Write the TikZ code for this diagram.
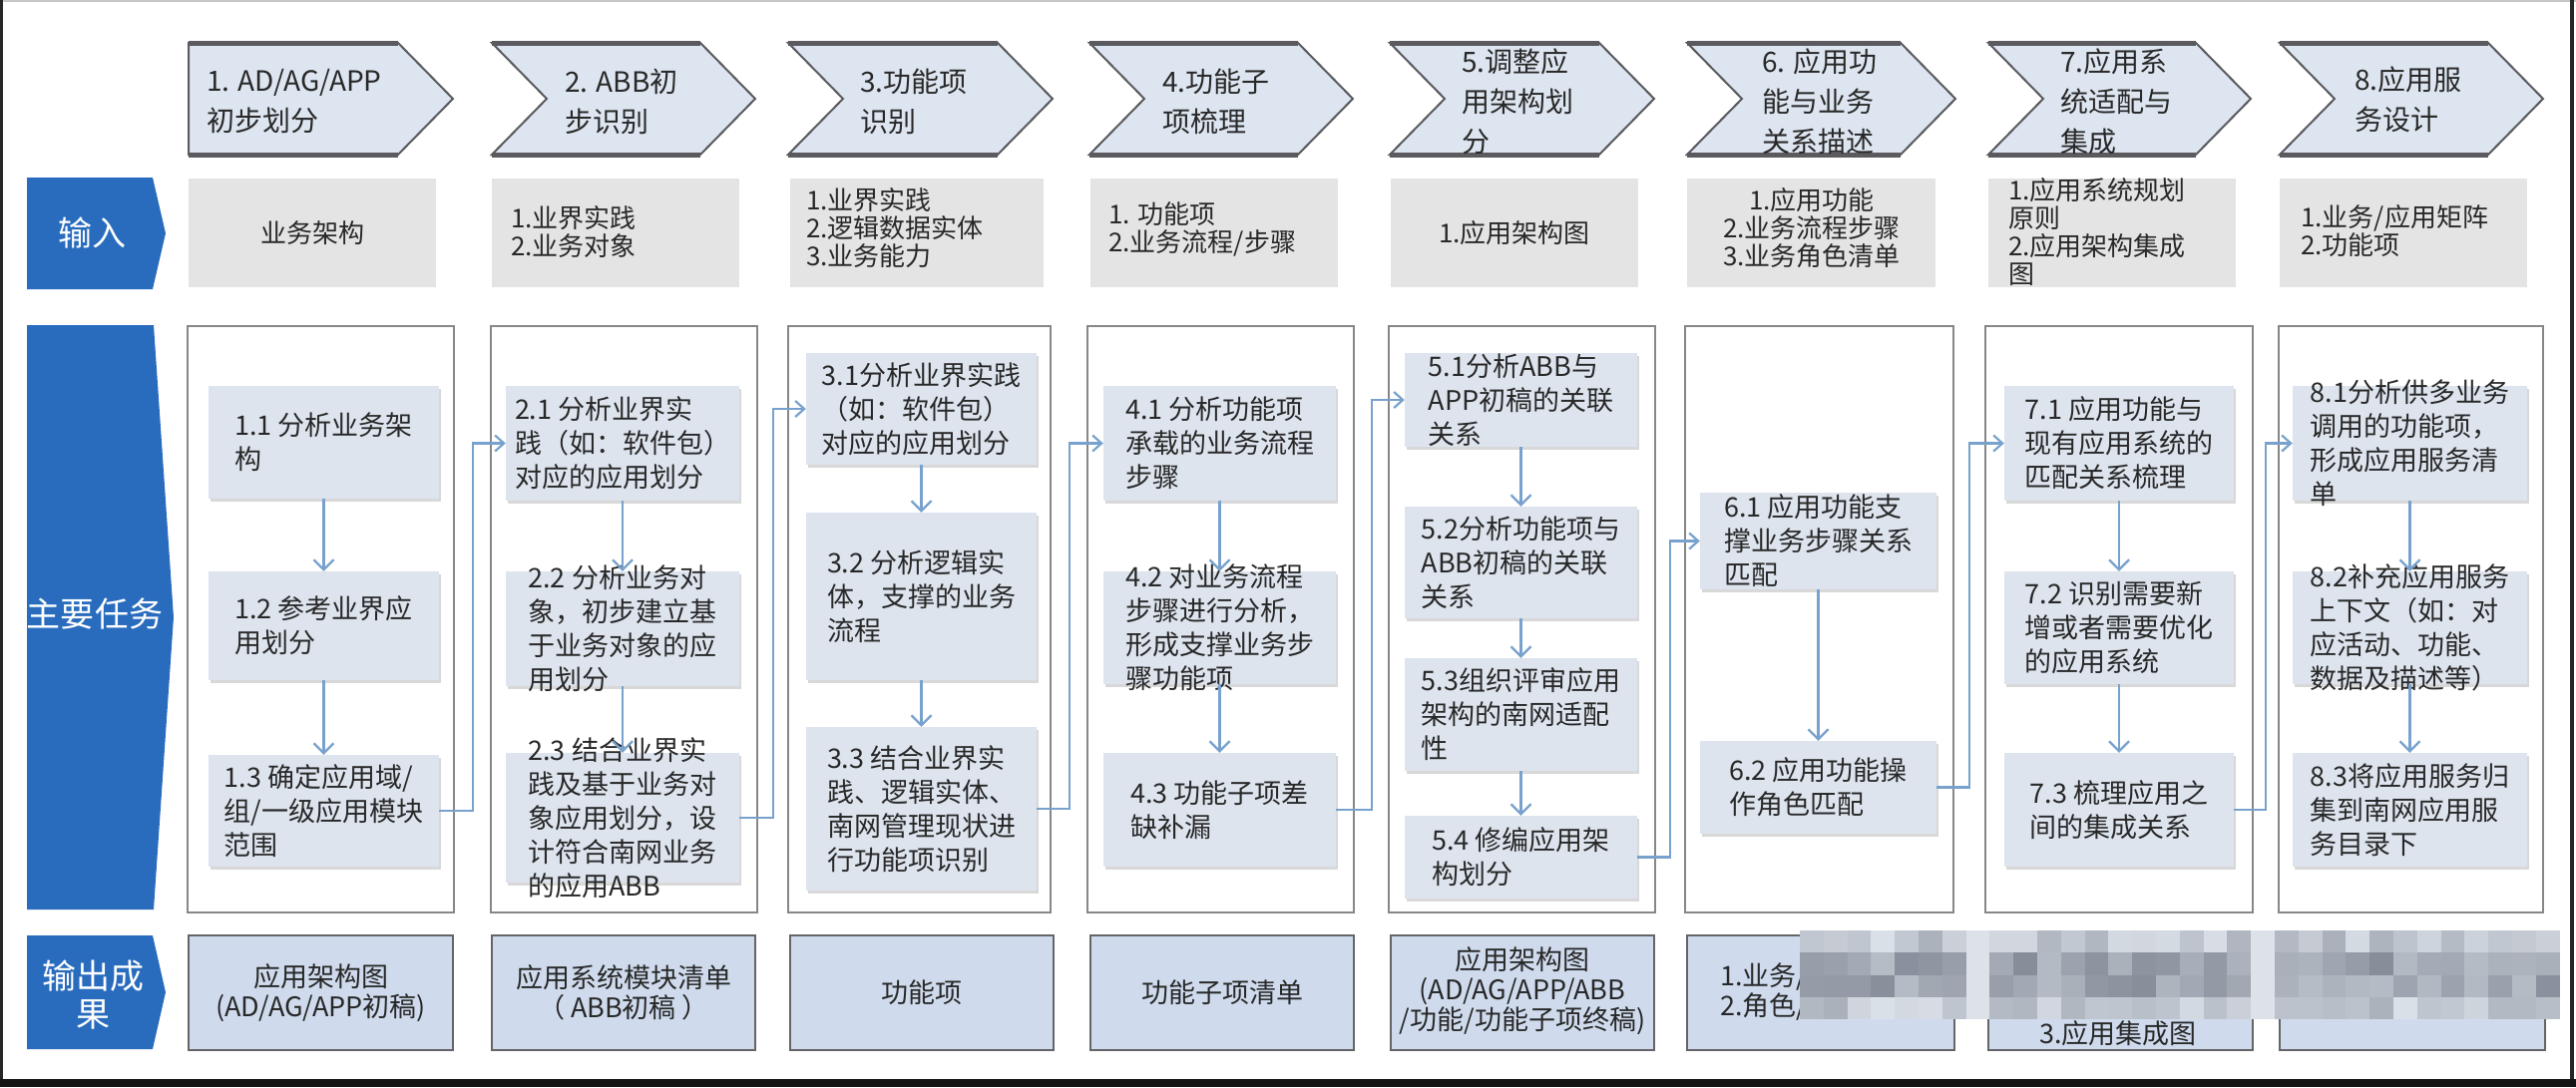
\documentclass[tikz,border=0pt]{standalone}
\usepackage{fontspec}
\setmainfont{Noto Sans CJK SC}
\usetikzlibrary{arrows.meta,shadows,calc}

\definecolor{lblue}{RGB}{41,108,190}
\definecolor{chevfill}{RGB}{221,229,240}
\definecolor{chevline}{RGB}{90,90,95}
\definecolor{inbg}{RGB}{228,228,228}
\definecolor{taskfill}{RGB}{221,228,238}
\definecolor{colline}{RGB}{135,135,135}
\definecolor{outfill}{RGB}{207,219,237}
\definecolor{outline}{RGB}{100,100,105}
\definecolor{arrowc}{RGB}{120,162,205}
\definecolor{txt}{RGB}{40,40,40}
\definecolor{mosdark}{RGB}{108,116,130}
\definecolor{moslight}{RGB}{228,233,240}

\newcommand{\mytask}[6]{%
  \pgfmathsetmacro{\tcx}{(#2+#4)/2}%
  \pgfmathsetmacro{\tcy}{(#3+#5)/2}%
  \pgfmathsetmacro{\tkw}{#4-#2}%
  \pgfmathsetmacro{\tkh}{#5-#3}%
  \node[taskbox,minimum width=\tkw pt,minimum height=\tkh pt] (#1) at (\tcx,\tcy) {};%
  \node[tasktext] (#1t) at (#1.center) {#6};%
}
\newcommand{\mybox}[6]{%
  \pgfmathsetmacro{\tcx}{(#2+#4)/2}%
  \pgfmathsetmacro{\tcy}{(#3+#5)/2}%
  \pgfmathsetmacro{\tkw}{#4-#2}%
  \pgfmathsetmacro{\tkh}{#5-#3}%
  \node[#6,minimum width=\tkw pt,minimum height=\tkh pt] (#1) at (\tcx,\tcy) {};%
}
\newcommand{\mychev}[3]{%
  \pgfmathsetmacro{\chr}{#2-55}%
  \pgfmathsetmacro{\chn}{#1+55*#3}%
  \fill[chevfill] (#1,43) -- (\chr,43) -- (#2,99) -- (\chr,155) -- (#1,155) -- (\chn,99) -- cycle;%
  \draw[chevline,line width=2pt,line join=miter] (#1,43) -- (\chr,43) -- (#2,99) -- (\chr,155) -- (#1,155) -- (\chn,99) -- cycle;%
  \draw[chevline,line width=5pt] (#1,43) -- (\chr,43);%
  \draw[chevline,line width=5pt] (#1,155) -- (\chr,155);%
}

\begin{document}
\begin{tikzpicture}[x=1pt,y=-1pt,
  colbox/.style={draw=colline,line width=2.5pt,fill=white,inner sep=0pt},
  taskbox/.style={fill=taskfill,inner sep=0pt,drop shadow={shadow xshift=1.5pt,shadow yshift=-3pt,opacity=0.3,fill=gray}},
  tasktext/.style={align=left,inner sep=0pt,text=txt,font=\fontsize{27}{34}\selectfont},
  chevtext/.style={align=left,inner sep=0pt,anchor=west,text=txt,font=\fontsize{28}{40}\selectfont},
  inbox/.style={fill=inbg,inner sep=0pt},
  intext/.style={align=left,inner sep=0pt,text=txt,font=\fontsize{26}{28}\selectfont},
  outbox/.style={fill=outfill,draw=outline,line width=2.5pt,inner sep=0pt},
  outtext/.style={align=center,inner sep=0pt,text=txt,font=\fontsize{27}{30}\selectfont},
  labtext/.style={align=center,inner sep=0pt,text=white,font=\fontsize{34}{38}\selectfont},
  varrow/.style={draw=arrowc,line width=2.2pt,-{Straight Barb[length=10pt,width=20pt]}},
  conn/.style={draw=arrowc,line width=2.2pt,-{Straight Barb[length=9pt,width=16pt]}}
]
\useasboundingbox (0,0) rectangle (2582,1090);
\fill[white] (0,0) rectangle (2582,1090);

% frame
\draw[gray!45,line width=2pt] (0,1) -- (2582,1);
\draw[black!85,line width=3pt] (1.5,0) -- (1.5,1082);
\draw[black!85,line width=4pt] (2578,0) -- (2578,1082);
\fill[black!92] (0,1082) rectangle (2582,1090);

% left labels
\fill[lblue] (27,178) -- (153,178) -- (166,234) -- (153,290) -- (27,290) -- cycle;
\node[labtext] (lab1) at (92,234) {输入};
\fill[lblue] (27,326) -- (154,326) -- (174,619) -- (154,912) -- (27,912) -- cycle;
\node[labtext] (lab2) at (95,616) {主要任务};
\fill[lblue] (27,938) -- (153,938) -- (166,995) -- (153,1052) -- (27,1052) -- cycle;
\node[labtext] (lab3) at (93,998) {输出成\\果};

% header chevrons
\mychev{189}{454}{0}
\mychev{493}{757}{1}
\mychev{790}{1055}{1}
\mychev{1092}{1356}{1}
\mychev{1393}{1658}{1}
\mychev{1691}{1960}{1}
\mychev{1993}{2256}{1}
\mychev{2285}{2549}{1}
\node[chevtext] (h1) at (207,102) {1. AD/AG/APP\\初步划分};
\node[chevtext] (h2) at (566,102) {2. ABB初\\步识别};
\node[chevtext] (h3) at (862,102) {3.功能项\\识别};
\node[chevtext] (h4) at (1165,102) {4.功能子\\项梳理};
\node[chevtext] (h5) at (1465,102) {5.调整应\\用架构划\\分};
\node[chevtext] (h6) at (1766,102) {6. 应用功\\能与业务\\关系描述};
\node[chevtext] (h7) at (2065,102) {7.应用系\\统适配与\\集成};
\node[chevtext] (h8) at (2360,100) {8.应用服\\务设计};

% input row
\mybox{in1}{189}{179}{437}{288}{inbox}
\mybox{in2}{493}{179}{741}{288}{inbox}
\mybox{in3}{792}{179}{1046}{288}{inbox}
\mybox{in4}{1093}{179}{1341}{288}{inbox}
\mybox{in5}{1394}{179}{1642}{288}{inbox}
\mybox{in6}{1691}{179}{1940}{288}{inbox}
\mybox{in7}{1993}{179}{2241}{288}{inbox}
\mybox{in8}{2285}{179}{2533}{288}{inbox}
\node[intext] (in1t) at (in1.center) {业务架构};
\node[intext,anchor=west] (in2t) at (512,233) {1.业界实践\\2.业务对象};
\node[intext,anchor=west] (in3t) at (808,229) {1.业界实践\\2.逻辑数据实体\\3.业务能力};
\node[intext,anchor=west] (in4t) at (1111,230) {1. 功能项\\2.业务流程/步骤};
\node[intext] (in5t) at (in5.center) {1.应用架构图};
\node[intext,align=center] (in6t) at (1816,229) {1.应用功能\\2.业务流程步骤\\3.业务角色清单};
\node[intext,anchor=west] (in7t) at (2013,233) {1.应用系统规划\\原则\\2.应用架构集成\\图};
\node[intext,anchor=west] (in8t) at (2306,232) {1.业务/应用矩阵\\2.功能项};

% main task columns
\mybox{c1}{188}{327}{455}{915}{colbox}
\mybox{c2}{492}{327}{759}{915}{colbox}
\mybox{c3}{790}{327}{1053}{915}{colbox}
\mybox{c4}{1090}{327}{1357}{915}{colbox}
\mybox{c5}{1392}{327}{1659}{915}{colbox}
\mybox{c6}{1689}{327}{1958}{915}{colbox}
\mybox{c7}{1990}{327}{2258}{915}{colbox}
\mybox{c8}{2284}{327}{2549}{915}{colbox}

\mytask{t11}{209}{387}{440}{500}{1.1 分析业务架\\构}
\mytask{t12}{209}{573}{440}{682}{1.2 参考业界应\\用划分}
\mytask{t13}{209}{757}{440}{869}{1.3 确定应用域/\\组/一级应用模块\\范围}
\mytask{t21}{507}{387}{741}{502}{2.1 分析业界实\\践（如：软件包）\\对应的应用划分}
\mytask{t22}{507}{573}{741}{688}{2.2 分析业务对\\象，初步建立基\\于业务对象的应\\用划分}
\mytask{t23}{507}{755}{741}{885}{2.3 结合业界实\\践及基于业务对\\象应用划分，设\\计符合南网业务\\的应用ABB}
\mytask{t31}{808}{354}{1039}{466}{3.1分析业界实践\\（如：软件包）\\对应的应用划分}
\mytask{t32}{808}{514}{1039}{682}{3.2 分析逻辑实\\体，支撑的业务\\流程}
\mytask{t33}{808}{729}{1039}{893}{3.3 结合业界实\\践、逻辑实体、\\南网管理现状进\\行功能项识别}
\mytask{t41}{1106}{387}{1339}{502}{4.1 分析功能项\\承载的业务流程\\步骤}
\mytask{t42}{1106}{573}{1339}{686}{4.2 对业务流程\\步骤进行分析，\\形成支撑业务步\\骤功能项}
\mytask{t43}{1106}{755}{1339}{869}{4.3 功能子项差\\缺补漏}
\mytask{t51}{1408}{354}{1641}{448}{5.1分析ABB与\\APP初稿的关联\\关系}
\mytask{t52}{1408}{508}{1641}{620}{5.2分析功能项与\\ABB初稿的关联\\关系}
\mytask{t53}{1408}{660}{1641}{773}{5.3组织评审应用\\架构的南网适配\\性}
\mytask{t54}{1408}{818}{1641}{901}{5.4 修编应用架\\构划分}
\mytask{t61}{1704}{494}{1941}{591}{6.1 应用功能支\\撑业务步骤关系\\匹配}
\mytask{t62}{1704}{743}{1941}{836}{6.2 应用功能操\\作角色匹配}
\mytask{t71}{2009}{387}{2239}{502}{7.1 应用功能与\\现有应用系统的\\匹配关系梳理}
\mytask{t72}{2009}{573}{2239}{686}{7.2 识别需要新\\增或者需要优化\\的应用系统}
\mytask{t73}{2009}{755}{2239}{869}{7.3 梳理应用之\\间的集成关系}
\mytask{t81}{2298}{387}{2533}{502}{8.1分析供多业务\\调用的功能项，\\形成应用服务清\\单}
\mytask{t82}{2298}{573}{2533}{686}{8.2补充应用服务\\上下文（如：对\\应活动、功能、\\数据及描述等）}
\mytask{t83}{2298}{755}{2533}{869}{8.3将应用服务归\\集到南网应用服\\务目录下}

% vertical arrows
\draw[varrow] (t11.south) -- (t12.north);
\draw[varrow] (t12.south) -- (t13.north);
\draw[varrow] (t21.south) -- (t22.north);
\draw[varrow] (t22.south) -- (t23.north);
\draw[varrow] (t31.south) -- (t32.north);
\draw[varrow] (t32.south) -- (t33.north);
\draw[varrow] (t41.south) -- (t42.north);
\draw[varrow] (t42.south) -- (t43.north);
\draw[varrow] (t51.south) -- (t52.north);
\draw[varrow] (t52.south) -- (t53.north);
\draw[varrow] (t53.south) -- (t54.north);
\draw[varrow] (t61.south) -- (t62.north);
\draw[varrow] (t71.south) -- (t72.north);
\draw[varrow] (t72.south) -- (t73.north);
\draw[varrow] (t81.south) -- (t82.north);
\draw[varrow] (t82.south) -- (t83.north);

% connectors between columns
\coordinate (g1) at (474,600);
\coordinate (g2) at (775,600);
\coordinate (g3) at (1072,600);
\coordinate (g4) at (1375,600);
\coordinate (g5) at (1674,600);
\coordinate (g6) at (1974,600);
\coordinate (g7) at (2271,600);
\draw[conn] (t13.east) -| (g1 |- t21.west) -- (t21.west);
\draw[conn] (t23.east) -| (g2 |- t31.west) -- (t31.west);
\draw[conn] (t33.east) -| (g3 |- t41.west) -- (t41.west);
\draw[conn] (t43.east) -| (g4 |- t51.west) -- (t51.west);
\draw[conn] (t54.east) -| (g5 |- t61.west) -- (t61.west);
\draw[conn] (t62.east) -| (g6 |- t71.west) -- (t71.west);
\draw[conn] (t73.east) -| (g7 |- t81.west) -- (t81.west);

% output row
\mybox{o1}{189}{938}{454}{1053}{outbox}
\mybox{o2}{493}{938}{757}{1053}{outbox}
\mybox{o3}{792}{938}{1056}{1053}{outbox}
\mybox{o4}{1093}{938}{1357}{1053}{outbox}
\mybox{o5}{1394}{938}{1658}{1053}{outbox}
\mybox{o6}{1691}{938}{1959}{1053}{outbox}
\mybox{o7}{1993}{938}{2258}{1053}{outbox}
\mybox{o8}{2285}{938}{2551}{1053}{outbox}
\node[outtext] (o1t) at (o1.center) {应用架构图\\(AD/AG/APP初稿)};
\node[outtext] (o2t) at (o2.center) {应用系统模块清单\\（ ABB初稿 ）};
\node[outtext] (o3t) at (o3.center) {功能项};
\node[outtext] (o4t) at (o4.center) {功能子项清单};
\node[outtext] (o5t) at (1526,994) {应用架构图\\(AD/AG/APP/ABB\\/功能/功能子项终稿)};
\node[outtext,align=left,anchor=west] (o6t) at (1724,995) {1.业务/\\2.角色/};
\node[outtext] (o7t) at (2123,1036) {3.应用集成图};

% mosaic censor
\pgfmathsetseed{7}
\foreach \i in {0,...,31}{
  \foreach \j in {0,...,3}{
    \pgfmathrandominteger{\ra}{8}{48}
    \pgfmathtruncatemacro{\rb}{\ra + 30*and(\j>0,\j<3)}
    \pgfmathtruncatemacro{\rc}{or(\i==7,\i==19) ? 6 : \rb}
    \fill[mosdark!\rc!moslight] ({1804+23.8*\i},{933+22.25*\j}) rectangle ++(23.8,22.25);
  }
}
\end{tikzpicture}
\end{document}
